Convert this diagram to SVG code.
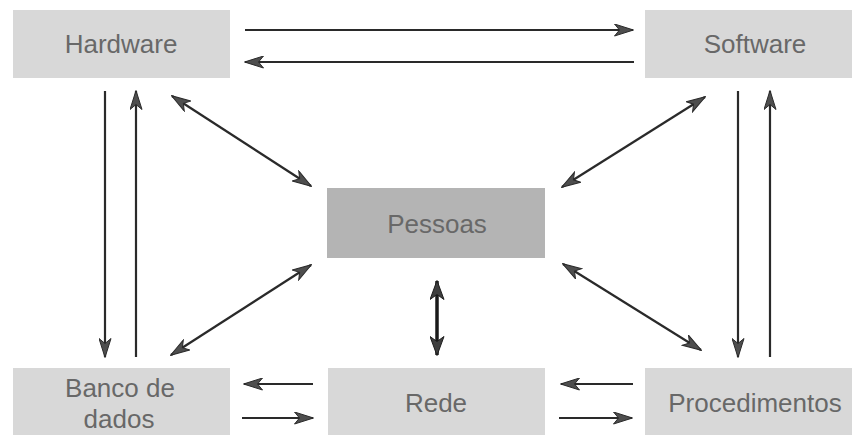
<svg xmlns="http://www.w3.org/2000/svg" width="852" height="435" viewBox="0 0 852 435">
  <style>
    .box { fill: #d8d8d8; }
    .box-dark { fill: #b4b4b4; }
    .label { font-family: "Liberation Sans", Arial, sans-serif; font-size: 26px; fill: #686868; text-anchor: middle; }
    .link { stroke: #2a2a2a; stroke-width: 2.2; fill: none; }
    .link-bold { stroke: #1a1a1a; stroke-width: 3.5; fill: none; }
  </style>
  <defs>
    <!-- notched arrowhead, reused at both ends of two-way links -->
    <marker id="head" viewBox="0 0 20 13" refX="19" refY="6.5" markerWidth="20" markerHeight="13" markerUnits="userSpaceOnUse" orient="auto-start-reverse">
      <path d="M0.5,0.5 L19.5,6.5 L0.5,12.5 L5.5,6.5 Z" fill="#4e4e4e" stroke="#2a2a2a" stroke-width="1"/>
    </marker>
    <marker id="head-bold" viewBox="0 0 20 15" refX="19" refY="7.5" markerWidth="20" markerHeight="15" markerUnits="userSpaceOnUse" orient="auto-start-reverse">
      <path d="M0.5,0.5 L19.5,7.5 L0.5,14.5 L5.5,7.5 Z" fill="#3e3e3e" stroke="#1e1e1e" stroke-width="1"/>
    </marker>
  </defs>
  <rect width="852" height="435" fill="#ffffff"/>

  <g id="hardware">
    <rect class="box" x="13" y="10" width="217" height="68"/>
    <text class="label" x="121" y="53">Hardware</text>
  </g>
  <g id="software">
    <rect class="box" x="645" y="10" width="207" height="68"/>
    <text class="label" x="755" y="53">Software</text>
  </g>
  <g id="pessoas">
    <rect class="box-dark" x="327" y="188" width="218" height="70"/>
    <text class="label" x="437" y="233">Pessoas</text>
  </g>
  <g id="banco-de-dados">
    <rect class="box" x="13" y="368" width="217" height="67"/>
    <text class="label" x="120" y="397">Banco de</text>
    <text class="label" x="119" y="428">dados</text>
  </g>
  <g id="rede">
    <rect class="box" x="328" y="368" width="217" height="67"/>
    <text class="label" x="436" y="412">Rede</text>
  </g>
  <g id="procedimentos">
    <rect class="box" x="645" y="368" width="207" height="67"/>
    <text class="label" x="755" y="412">Procedimentos</text>
  </g>

  <g id="connectors">
    <!-- Hardware / Software -->
    <line class="link" x1="245" y1="30" x2="633" y2="30" marker-end="url(#head)"/>
    <line class="link" x1="634" y1="62" x2="245" y2="62" marker-end="url(#head)"/>
    <!-- Hardware / Banco de dados -->
    <line class="link" x1="105" y1="91" x2="105" y2="357" marker-end="url(#head)"/>
    <line class="link" x1="136" y1="357" x2="136" y2="91" marker-end="url(#head)"/>
    <!-- Software / Procedimentos -->
    <line class="link" x1="738" y1="91" x2="738" y2="357" marker-end="url(#head)"/>
    <line class="link" x1="770" y1="357" x2="770" y2="91" marker-end="url(#head)"/>
    <!-- Pessoas diagonals -->
    <line class="link" x1="172" y1="96" x2="311" y2="186" marker-start="url(#head)" marker-end="url(#head)"/>
    <line class="link" x1="705" y1="97" x2="562" y2="187" marker-start="url(#head)" marker-end="url(#head)"/>
    <line class="link" x1="311" y1="265" x2="171" y2="355" marker-start="url(#head)" marker-end="url(#head)"/>
    <line class="link" x1="563" y1="264" x2="701" y2="350" marker-start="url(#head)" marker-end="url(#head)"/>
    <!-- Pessoas / Rede -->
    <line class="link-bold" x1="437" y1="281" x2="437" y2="355" marker-start="url(#head-bold)" marker-end="url(#head-bold)"/>
    <!-- Banco de dados / Rede -->
    <line class="link" x1="313" y1="384" x2="244" y2="384" marker-end="url(#head)"/>
    <line class="link" x1="242" y1="418" x2="313" y2="418" marker-end="url(#head)"/>
    <!-- Rede / Procedimentos -->
    <line class="link" x1="633" y1="384" x2="561" y2="384" marker-end="url(#head)"/>
    <line class="link" x1="559" y1="418" x2="632" y2="418" marker-end="url(#head)"/>
  </g>
</svg>
